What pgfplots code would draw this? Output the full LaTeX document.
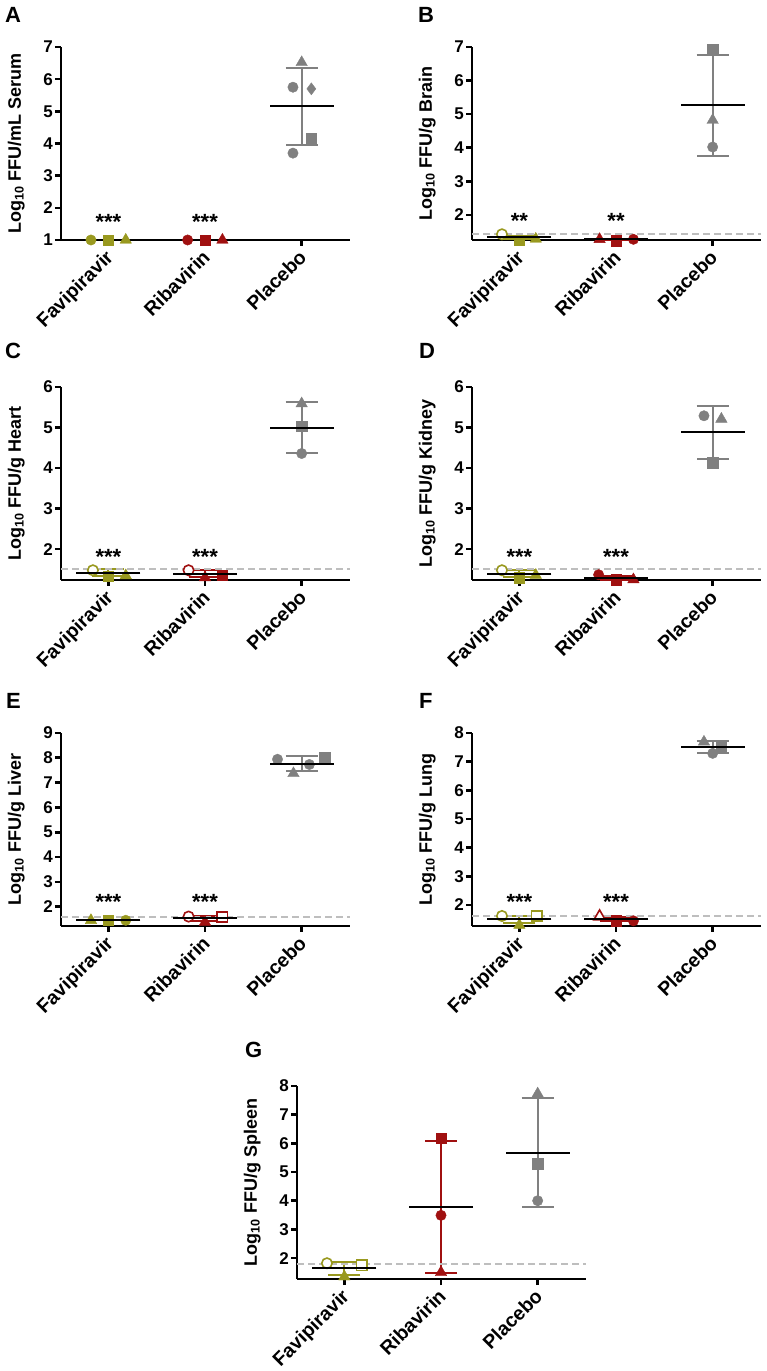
\documentclass[border=0pt]{standalone}
\usepackage{fontspec}
\setmainfont{Liberation Sans}
\usepackage{pgfplots}
\pgfplotsset{compat=1.18}

\definecolor{fav}{RGB}{153,153,31}
\definecolor{rib}{RGB}{160,16,16}
\definecolor{plac}{RGB}{128,128,128}
\definecolor{lodgray}{RGB}{190,190,190}

\tikzset{stars/.style={font=\fontsize{22}{22}\selectfont\bfseries}}

\pgfplotsset{
  panel/.style={
    scale only axis, width=289pt, height=193pt,
    xmin=-0.49, xmax=2.5,
    axis x line*=bottom, axis y line*=left,
    axis line style={line width=2.6pt},
    major tick style={black, line width=2.6pt},
    tick align=outside, major tick length=6pt,
    xtick={0,1,2}, xticklabels={Favipiravir,Ribavirin,Placebo},
    xticklabel style={xshift=-4pt, yshift=-1pt, rotate=45, anchor=north east, inner sep=1pt,
      font=\fontsize{19.5}{19.5}\selectfont\bfseries},
    yticklabel style={font=\fontsize{17}{17}\selectfont\bfseries, inner sep=2pt},
    /pgf/number format/assume math mode=true,
    ylabel style={font=\fontsize{18}{18}\selectfont\bfseries,
      at={(axis description cs:-0.155,0.5)}, anchor=center},
    clip=false,
  },
  pts/.style={only marks, scatter, scatter src=explicit symbolic, mark size=5.2pt,
    scatter/classes={
      c={mark=*,#1}, s={mark=square*,#1}, t={mark=triangle*,#1,mark size=6.6pt},
      d={mark=diamond*,#1,mark size=6pt},
      oc={mark=*,draw=#1,fill=white,line width=1.6pt},
      os={mark=square*,draw=#1,fill=white,line width=1.6pt},
      ot={mark=triangle*,draw=#1,fill=white,line width=1.6pt,mark size=6.6pt}}},
  msd/.style={only marks, mark=-, mark size=32pt, mark options={black, line width=2pt},
    error bars/.cd, y dir=both, y explicit, error mark=|,
    error bar style={#1, line width=2pt},
    error mark options={#1, line width=2pt, mark size=16pt}},
  lodline/.style={lodgray, line width=2pt, dash pattern=on 7pt off 4pt},
}

\begin{document}
\begin{tikzpicture}[x=1pt,y=1pt]
\useasboundingbox (0,0) rectangle (766,1371);

% A serum
\begin{axis}[panel, at={(61pt,1131pt)}, anchor=south west,
  ymin=1, ymax=7, ytick={1,...,7}, ylabel={Log\textsubscript{10} FFU/mL Serum}]
\addplot[pts=fav] table[meta=cl, row sep=\\] {x y cl\\ -0.18 1 c\\ 0 1 s\\ 0.18 1 t\\};
\addplot[pts=rib] table[meta=cl, row sep=\\] {x y cl\\ 0.82 1 c\\ 1 1 s\\ 1.18 1 t\\};
\addplot[pts=plac] table[meta=cl, row sep=\\] {x y cl\\ 2 6.52 t\\ 1.91 5.75 c\\ 2.1 5.7 d\\ 2.1 4.15 s\\ 1.91 3.7 c\\};
\addplot[msd=plac] coordinates {(2,5.15) +- (0,1.2)};
\node[stars] at (axis cs:0,1.55) {***};
\node[stars] at (axis cs:1,1.55) {***};
\end{axis}

% B brain
\begin{axis}[panel, at={(472pt,1131pt)}, anchor=south west,
  ymin=1.25, ymax=7, ytick={2,...,7}, ylabel={Log\textsubscript{10} FFU/g Brain}]
\addplot[pts=fav] table[meta=cl, row sep=\\] {x y cl\\ -0.18 1.42 oc\\ 0 1.24 s\\ 0.17 1.28 t\\};
\addplot[pts=rib] table[meta=cl, row sep=\\] {x y cl\\ 0.83 1.27 t\\ 1 1.23 s\\ 1.18 1.27 c\\};
\addplot[pts=plac] table[meta=cl, row sep=\\] {x y cl\\ 2 6.94 s\\ 2 4.82 t\\ 2 4.02 c\\};
\addplot[msd=fav] coordinates {(0,1.33) +- (0,0.05)};
\addplot[msd=rib] coordinates {(1,1.27) +- (0,0.02)};
\addplot[msd=plac] coordinates {(2,5.26) +- (0,1.5)};
\addplot[lodline] coordinates {(-0.49,1.43) (2.5,1.43)};
\node[stars] at (axis cs:0,1.82) {**};
\node[stars] at (axis cs:1,1.82) {**};
\end{axis}

% C heart
\begin{axis}[panel, at={(61pt,791pt)}, anchor=south west,
  ymin=1.24, ymax=6, ytick={2,...,6}, ylabel={Log\textsubscript{10} FFU/g Heart}]
\addplot[pts=fav] table[meta=cl, row sep=\\] {x y cl\\ -0.16 1.48 oc\\ 0 1.33 s\\ 0.18 1.35 t\\};
\addplot[pts=rib] table[meta=cl, row sep=\\] {x y cl\\ 0.83 1.48 oc\\ 1 1.3 t\\ 1.18 1.36 s\\};
\addplot[pts=plac] table[meta=cl, row sep=\\] {x y cl\\ 2 5.59 t\\ 2 5.04 s\\ 2 4.36 c\\};
\addplot[msd=fav] coordinates {(0,1.42) +- (0,0.08)};
\addplot[msd=rib] coordinates {(1,1.40) +- (0,0.09)};
\addplot[msd=plac] coordinates {(2,5.0) +- (0,0.63)};
\addplot[lodline] coordinates {(-0.49,1.5) (2.5,1.5)};
\node[stars] at (axis cs:0,1.8) {***};
\node[stars] at (axis cs:1,1.8) {***};
\end{axis}

% D kidney
\begin{axis}[panel, at={(472pt,791pt)}, anchor=south west,
  ymin=1.24, ymax=6, ytick={2,...,6}, ylabel={Log\textsubscript{10} FFU/g Kidney}]
\addplot[pts=fav] table[meta=cl, row sep=\\] {x y cl\\ -0.18 1.48 oc\\ 0 1.3 s\\ 0.17 1.36 t\\};
\addplot[pts=rib] table[meta=cl, row sep=\\] {x y cl\\ 0.82 1.37 c\\ 1 1.25 s\\ 1.18 1.25 t\\};
\addplot[pts=plac] table[meta=cl, row sep=\\] {x y cl\\ 1.91 5.29 c\\ 2.09 5.21 t\\ 2 4.13 s\\};
\addplot[msd=fav] coordinates {(0,1.40) +- (0,0.08)};
\addplot[msd=rib] coordinates {(1,1.29) +- (0,0.06)};
\addplot[msd=plac] coordinates {(2,4.88) +- (0,0.65)};
\addplot[lodline] coordinates {(-0.49,1.5) (2.5,1.5)};
\node[stars] at (axis cs:0,1.8) {***};
\node[stars] at (axis cs:1,1.8) {***};
\end{axis}

% E liver
\begin{axis}[panel, at={(61pt,445pt)}, anchor=south west,
  ymin=1.22, ymax=9, ytick={2,...,9}, ylabel={Log\textsubscript{10} FFU/g Liver}]
\addplot[pts=fav] table[meta=cl, row sep=\\] {x y cl\\ -0.18 1.45 t\\ 0 1.46 s\\ 0.18 1.45 c\\};
\addplot[pts=rib] table[meta=cl, row sep=\\] {x y cl\\ 0.83 1.6 oc\\ 1 1.38 t\\ 1.18 1.58 os\\};
\addplot[pts=plac] table[meta=cl, row sep=\\] {x y cl\\ 1.75 7.94 c\\ 1.915 7.37 t\\ 2.08 7.73 c\\ 2.24 8.03 s\\};
\addplot[msd=fav] coordinates {(0,1.46) +- (0,0)};
\addplot[msd=rib] coordinates {(1,1.53) +- (0,0.1)};
\addplot[msd=plac] coordinates {(2,7.77) +- (0,0.3)};
\addplot[lodline] coordinates {(-0.49,1.6) (2.5,1.6)};
\node[stars] at (axis cs:0,2.17) {***};
\node[stars] at (axis cs:1,2.17) {***};
\end{axis}

% F lung
\begin{axis}[panel, at={(472pt,445pt)}, anchor=south west,
  ymin=1.27, ymax=8, ytick={2,...,8}, ylabel={Log\textsubscript{10} FFU/g Lung}]
\addplot[pts=fav] table[meta=cl, row sep=\\] {x y cl\\ -0.18 1.62 oc\\ 0 1.3 t\\ 0.18 1.62 os\\};
\addplot[pts=rib] table[meta=cl, row sep=\\] {x y cl\\ 0.83 1.6 ot\\ 1 1.45 s\\ 1.18 1.45 c\\};
\addplot[pts=plac] table[meta=cl, row sep=\\] {x y cl\\ 1.91 7.69 t\\ 2.09 7.55 s\\ 2 7.29 c\\};
\addplot[msd=fav] coordinates {(0,1.51) +- (0,0.12)};
\addplot[msd=rib] coordinates {(1,1.52) +- (0,0.06)};
\addplot[msd=plac] coordinates {(2,7.51) +- (0,0.2)};
\addplot[lodline] coordinates {(-0.49,1.63) (2.5,1.63)};
\node[stars] at (axis cs:0,2.1) {***};
\node[stars] at (axis cs:1,2.1) {***};
\end{axis}

% G spleen
\begin{axis}[panel, at={(297pt,92pt)}, anchor=south west,
  ymin=1.27, ymax=8, ytick={2,...,8}, ylabel={Log\textsubscript{10} FFU/g Spleen}]
\addplot[pts=fav] table[meta=cl, row sep=\\] {x y cl\\ -0.18 1.82 oc\\ 0.18 1.75 os\\ 0 1.35 t\\};
\addplot[pts=rib] table[meta=cl, row sep=\\] {x y cl\\ 1 6.17 s\\ 1 3.49 c\\ 1 1.5 t\\};
\addplot[pts=plac] table[meta=cl, row sep=\\] {x y cl\\ 2 7.73 t\\ 2 5.29 s\\ 2 4.0 c\\};
\addplot[msd=fav] coordinates {(0,1.64) +- (0,0.24)};
\addplot[msd=rib] coordinates {(1,3.77) +- (0,2.3)};
\addplot[msd=plac] coordinates {(2,5.67) +- (0,1.9)};
\addplot[lodline] coordinates {(-0.49,1.8) (2.5,1.8)};
\end{axis}

\begin{scope}[font=\fontsize{22}{22}\selectfont\bfseries, inner sep=0pt, anchor=north west]
\node at (5,1364) {A};
\node at (418,1364) {B};
\node at (5,1028) {C};
\node at (419,1028) {D};
\node at (6,678) {E};
\node at (419,678) {F};
\node at (245,329) {G};
\end{scope}
\end{tikzpicture}
\end{document}
